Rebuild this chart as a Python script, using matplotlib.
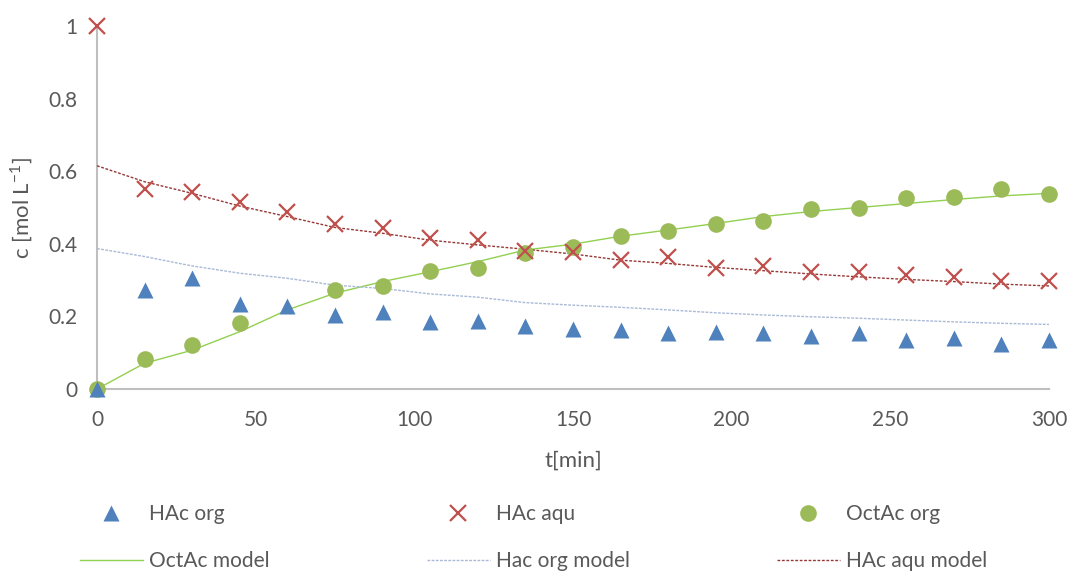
import matplotlib.pyplot as plt
import numpy as np

plt.rcParams['font.family'] = ['Lato', 'DejaVu Sans']
plt.rcParams['font.size'] = 15
plt.rcParams['axes.unicode_minus'] = False

t = [0, 15, 30, 45, 60, 75, 90, 105, 120, 135, 150,
     165, 180, 195, 210, 225, 240, 255, 270, 285, 300]

hac_org = [0.0, 0.274, 0.306, 0.234, 0.229, 0.205, 0.213, 0.185, 0.187, 0.174, 0.164,
           0.163, 0.154, 0.156, 0.153, 0.145, 0.154, 0.136, 0.141, 0.125, 0.134]
hac_aqu = [1.0, 0.551, 0.542, 0.516, 0.489, 0.455, 0.443, 0.417, 0.41, 0.381, 0.377,
           0.355, 0.363, 0.334, 0.339, 0.321, 0.323, 0.314, 0.309, 0.298, 0.298]
# no OctAc value at t=60
octac_org = [0.0, 0.083, 0.121, 0.181, np.nan, 0.273, 0.285, 0.326, 0.334, 0.375, 0.39,
             0.421, 0.436, 0.455, 0.464, 0.495, 0.5, 0.527, 0.53, 0.551, 0.537]

octac_model = [0.0, 0.071, 0.107, 0.158, 0.218, 0.264, 0.296, 0.323, 0.351, 0.383, 0.399,
               0.421, 0.438, 0.456, 0.475, 0.489, 0.5, 0.511, 0.522, 0.532, 0.539]
hac_org_model = [0.387, 0.365, 0.339, 0.319, 0.305, 0.286, 0.277, 0.262, 0.253, 0.238, 0.231,
                 0.225, 0.218, 0.21, 0.204, 0.199, 0.195, 0.19, 0.185, 0.181, 0.178]
hac_aqu_model = [0.615, 0.571, 0.539, 0.504, 0.475, 0.445, 0.429, 0.41, 0.397, 0.385, 0.372,
                 0.355, 0.346, 0.335, 0.326, 0.317, 0.309, 0.302, 0.296, 0.289, 0.284]

txt = '#595959'

fig = plt.figure(figsize=(10.72, 5.72), dpi=100)
ax = fig.add_axes([0.0905, 0.3199, 0.888, 0.6346])

l1, = ax.plot(t, octac_model, color='#92D050', lw=1.0, zorder=2)
l2, = ax.plot(t, hac_org_model, color='#A9B9D6', lw=1.0, ls=(0, (2, 1)), zorder=2)
l3, = ax.plot(t, hac_aqu_model, color='#953735', lw=1.0, ls=(0, (2, 1.2)), zorder=2)

m3, = ax.plot(t, octac_org, 'o', color='#9BBB59', ms=12, mec='none', zorder=3, clip_on=False)
m2, = ax.plot(t, hac_aqu, 'x', color='#C0504D', ms=11, mew=1.6, zorder=4, clip_on=False)
m1, = ax.plot(t, hac_org, '^', color='#4F81BD', ms=12, mec='none', zorder=5, clip_on=False)

ax.set_xlim(0, 300)
ax.set_ylim(0, 1)
ax.set_xticks([0, 50, 100, 150, 200, 250, 300])
ax.set_yticks([0, 0.2, 0.4, 0.6, 0.8, 1])
ax.set_yticklabels(['0', '0.2', '0.4', '0.6', '0.8', '1'])
ax.tick_params(length=0, colors=txt, labelsize=15)
ax.tick_params(axis='x', pad=15)
ax.tick_params(axis='y', pad=14)
for s in ['top', 'right']:
    ax.spines[s].set_visible(False)
for s in ['left', 'bottom']:
    ax.spines[s].set_color('#BFBFBF')
    ax.spines[s].set_linewidth(1.5)
    ax.spines[s].set_zorder(1)

ax.set_xlabel('t[min]', color=txt, fontsize=16, labelpad=15)
ax.set_ylabel(r'c [mol L$^{\mathregular{-1}}$]', color=txt, fontsize=16, labelpad=10)

groups = [([m1, l1], ['HAc org', 'OctAc model'], 80),
          ([m2, l2], ['HAc aqu', 'Hac org model'], 427),
          ([m3, l3], ['OctAc org', 'HAc aqu model'], 777)]
for hs, labs, x0 in groups:
    leg = fig.legend(hs, labs, loc='upper left', bbox_to_anchor=(x0 / 1072, 1 - 504 / 572),
                     frameon=False, borderpad=0, borderaxespad=0, handlelength=3.0,
                     handletextpad=0.3, labelspacing=1.3, fontsize=15)
    for tx in leg.get_texts():
        tx.set_color(txt)

fig.savefig('out.png', dpi=100)
